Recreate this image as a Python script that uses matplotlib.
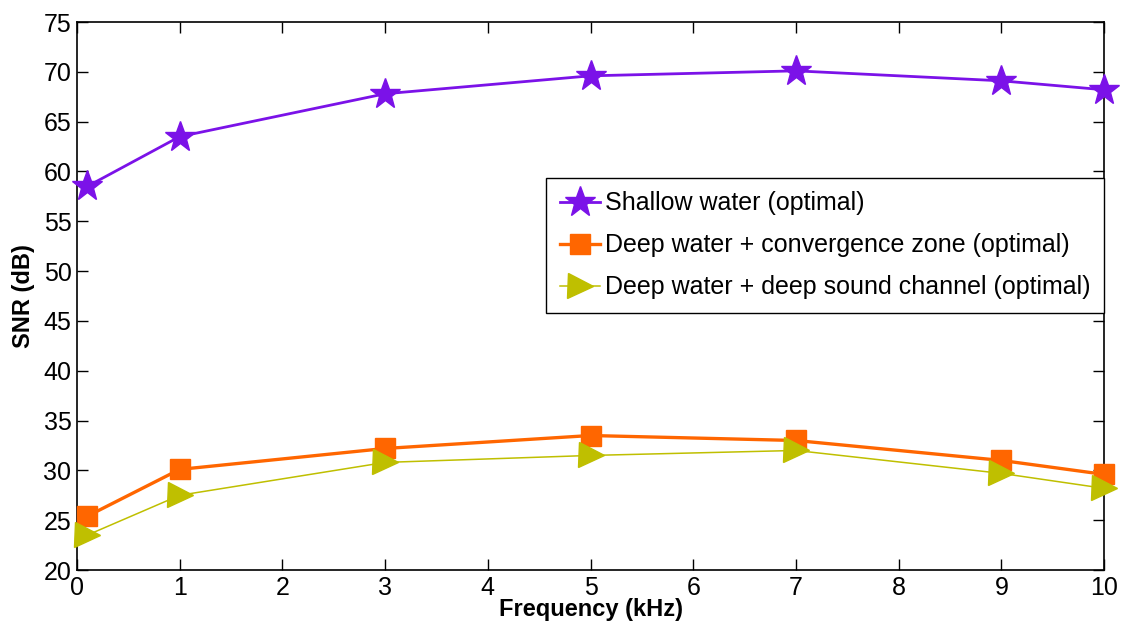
import matplotlib
matplotlib.use("Agg")
import matplotlib.pyplot as plt

plt.rcParams['font.family'] = ['Liberation Sans', 'DejaVu Sans']

freq_khz = [0.1, 1, 3, 5, 7, 9, 10]
snr_shallow = [58.5, 63.5, 67.8, 69.6, 70.1, 69.1, 68.2]
snr_convergence = [25.4, 30.1, 32.2, 33.5, 33.0, 31.0, 29.6]
snr_channel = [23.5, 27.5, 30.8, 31.5, 32.0, 29.7, 28.2]

labels = ['Shallow water (optimal)',
          'Deep water + convergence zone (optimal)',
          'Deep water + deep sound channel (optimal)']

fig = plt.figure(figsize=(11.22, 6.24), dpi=100)
ax = fig.add_axes([0.0686, 0.0865, 0.9154, 0.8782])

ax.plot(freq_khz, snr_shallow, color='#7B12E8', lw=2, marker='*', ms=23,
        label=labels[0], clip_on=False, zorder=3)
ax.plot(freq_khz, snr_convergence, color='#FF6600', lw=2.4, marker='s', ms=14,
        label=labels[1], clip_on=False, zorder=3)
ax.plot(freq_khz, snr_channel, color='#BFBF00', lw=1.1, marker='>', ms=18,
        label=labels[2], clip_on=False, zorder=4)

ax.set_xlim(0, 10)
ax.set_ylim(20, 75)
ax.set_xticks(range(0, 11))
ax.set_yticks(range(20, 76, 5))
ax.tick_params(direction='in', length=8, width=1, top=True, right=True,
               labelsize=18, pad=4)
for s in ax.spines.values():
    s.set_linewidth(1.2)

ax.set_xlabel('Frequency (kHz)', fontsize=17, fontweight='bold', labelpad=-1)
ax.set_ylabel('SNR (dB)', fontsize=17, fontweight='bold', labelpad=6)

leg = ax.legend(loc='upper right', bbox_to_anchor=(1.0, 0.716), fontsize=18,
                fancybox=False, edgecolor='black', framealpha=1,
                handlelength=1.6, handletextpad=0.2, borderpad=0.55,
                labelspacing=0.72, borderaxespad=0)
leg.get_frame().set_linewidth(1)

fig.savefig('out.png', dpi=100)
